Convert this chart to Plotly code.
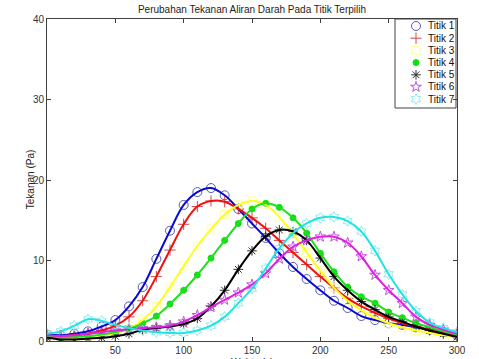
import plotly.graph_objects as go

t = list(range(0, 301, 10))

titik1 = [0.8, 0.7, 0.9, 1.2, 1.8, 2.6, 4.3, 6.7, 10.2, 13.7, 16.9, 18.5, 19.0, 18.1, 16.4, 14.6,
          12.8, 10.9, 9.2, 7.7, 6.3, 5.0, 4.1, 3.1, 2.6, 2.2, 2.0, 1.7, 1.4, 1.1, 0.7]
titik2 = [0.5, 0.6, 0.7, 0.9, 1.3, 1.9, 3.0, 5.0, 8.0, 11.3, 14.5, 16.7, 17.4, 17.3, 16.4, 15.3,
          14.0, 12.5, 11.0, 9.5, 8.0, 6.6, 5.3, 4.3, 3.5, 2.8, 2.2, 1.8, 1.4, 1.0, 0.7]
titik3 = [0.5, 0.4, 0.4, 0.5, 0.7, 1.0, 1.5, 2.6, 4.3, 6.7, 9.3, 11.8, 13.9, 15.7, 16.9, 17.4,
          16.9, 15.4, 13.3, 11.0, 8.7, 6.6, 5.0, 3.8, 2.9, 2.2, 1.7, 1.3, 1.0, 0.7, 0.5]
titik4 = [0.5, 0.4, 0.5, 0.6, 0.8, 1.1, 1.5, 2.2, 3.1, 4.6, 6.3, 8.2, 10.3, 12.5, 14.6, 16.4,
          17.1, 16.6, 15.3, 13.4, 10.9, 8.6, 6.7, 5.5, 4.7, 3.6, 2.9, 2.2, 1.7, 1.2, 0.8]
titik5 = [0.4, 0.2, 0.2, 0.3, 0.4, 0.6, 0.9, 1.4, 1.6, 1.8, 2.1, 2.8, 4.3, 6.3, 8.9, 11.2,
          13.0, 13.8, 13.6, 12.5, 10.3, 8.0, 6.3, 4.9, 3.9, 3.0, 2.4, 1.8, 1.3, 0.9, 0.5]
titik6 = [0.7, 0.6, 0.7, 0.9, 1.1, 1.3, 1.5, 1.6, 1.7, 1.9, 2.4, 3.2, 4.2, 5.1, 6.0, 7.0,
          8.4, 10.2, 11.7, 12.5, 12.95, 12.95, 12.2, 10.5, 8.2, 6.3, 4.7, 3.0, 2.0, 1.4, 0.9]
titik7 = [0.9, 1.2, 1.9, 2.7, 2.5, 2.0, 1.6, 1.3, 1.1, 1.0, 1.0, 1.3, 1.9, 3.0, 4.7, 6.5,
          9.0, 11.5, 13.4, 14.6, 15.3, 15.4, 14.9, 13.6, 11.2, 8.3, 5.8, 3.7, 2.3, 1.6, 1.1]

names = ["Titik 1", "Titik 2", "Titik 3", "Titik 4", "Titik 5", "Titik 6", "Titik 7"]
series = [titik1, titik2, titik3, titik4, titik5, titik6, titik7]
line_colors = ["#0a0ad2", "#f01010", "#ffff1a", "#1ee01e", "#000000", "#e020e0", "#20e4e4"]
marker_colors = ["#5a5ab8", "#d04848", "#ffffa0", "#10e010", "#303030", "#c050e0", "#90ecec"]
symbols = ["circle-open", "cross-thin-open", "square-open", "circle", "asterisk-open",
           "star-open", "hexagram-open"]
sizes = [9, 8, 8, 6, 8, 8, 8]

fig = go.Figure()
for nm, y, lc, mc, sym, sz in zip(names, series, line_colors, marker_colors, symbols, sizes):
    fig.add_trace(go.Scatter(x=t, y=y, mode="markers", name=nm, showlegend=False,
                             marker=dict(symbol=sym, size=sz, color=mc,
                                         line=dict(width=1, color=mc))))
for nm, y, lc in zip(names, series, line_colors):
    fig.add_trace(go.Scatter(x=t, y=y, mode="lines", showlegend=False,
                             line=dict(color=lc, width=2, shape="spline", smoothing=1.0)))

# custom compact legend (MATLAB style) on an overlay axis in 0..1 units
plot_w, plot_h = 410.0, 322.0
leg_x0, leg_x1 = (395 - 47) / plot_w, (456 - 47) / plot_w
leg_y1, leg_y0 = 1.0, (341 - 108) / plot_h
glyph_x = (416 - 47) / plot_w
text_x = (426 - 47) / plot_w
annotations = []
for i, (nm, mc, sym, sz) in enumerate(zip(names, marker_colors, symbols, sizes)):
    yy = (341 - 26 - 12.2 * i) / plot_h
    fig.add_trace(go.Scatter(x=[glyph_x], y=[yy], mode="markers", xaxis="x2", yaxis="y2",
                             showlegend=False, hoverinfo="skip",
                             marker=dict(symbol=sym, size=sz, color=mc,
                                         line=dict(width=1, color=mc))))
    annotations.append(dict(text=nm, x=text_x, y=yy, xref="paper", yref="paper",
                            xanchor="left", yanchor="middle", showarrow=False,
                            font=dict(size=10, color="#111111")))

axis_common = dict(showline=True, linecolor="#404040", linewidth=1, mirror="ticks",
                   ticks="inside", ticklen=4, tickcolor="#404040", showgrid=False,
                   zeroline=False, automargin=False,
                   tickfont=dict(size=10, color="#333333",
                                 family="Liberation Sans, Arial, sans-serif"))

annotations += [
    dict(text="Waktu (s)", x=0.5, y=-0.045, xref="paper", yref="paper",
         xanchor="center", yanchor="top", showarrow=False,
         font=dict(size=10, color="#222222")),
    dict(text="Tekanan (Pa)", x=-0.041, y=0.5, xref="paper", yref="paper",
         xanchor="center", yanchor="middle", textangle=-90, showarrow=False,
         font=dict(size=10, color="#222222")),
]

fig.update_layout(
    width=479, height=359,
    margin=dict(l=47, r=22, t=19, b=18),
    paper_bgcolor="white", plot_bgcolor="white",
    font=dict(family="Liberation Sans, Arial, sans-serif", size=10, color="#222222"),
    title=dict(text="Perubahan Tekanan Aliran Darah Pada Titik Terpilih",
               x=0.5, xref="paper", xanchor="center", y=1 - 9 / 359, yanchor="middle",
               font=dict(size=10, color="#222222")),
    xaxis=dict(range=[0, 300], tickvals=[50, 100, 150, 200, 250, 300], **axis_common),
    yaxis=dict(range=[0, 40], tickvals=[0, 10, 20, 30, 40], **axis_common),
    xaxis2=dict(overlaying="x", range=[0, 1], visible=False),
    yaxis2=dict(overlaying="y", range=[0, 1], visible=False),
    shapes=[dict(type="rect", xref="paper", yref="paper", x0=leg_x0, x1=leg_x1,
                 y0=leg_y0, y1=leg_y1, fillcolor="white",
                 line=dict(color="#404040", width=1), layer="below")],
    annotations=annotations,
    showlegend=False,
)

fig.write_html("out.html", config={"displayModeBar": False},
               post_script="document.body.style.margin='0px';")
